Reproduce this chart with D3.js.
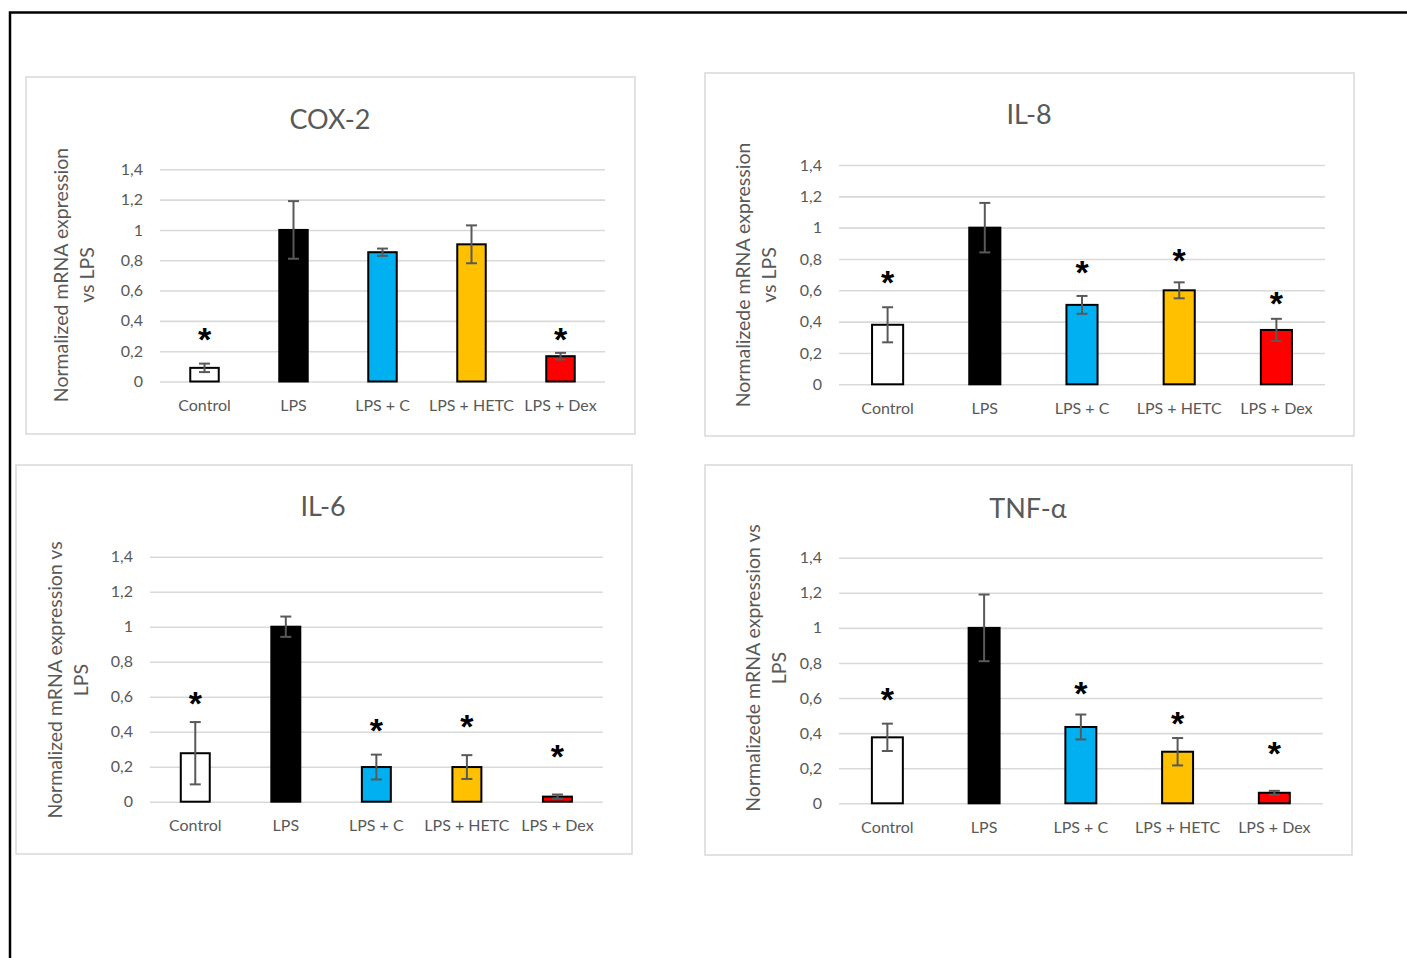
<!DOCTYPE html>
<html><head><meta charset="utf-8">
<script src="https://cdnjs.cloudflare.com/ajax/libs/d3/7.8.5/d3.min.js"></script>
<style>
html,body{margin:0;padding:0;background:#fff;}
svg{display:block;}
text{font-family:Lato,"Open Sans",sans-serif;fill:#595959;}
</style></head>
<body>
<svg id="c" width="1407" height="958"></svg>
<script>
const categories = ["Control", "LPS", "LPS + C", "LPS + HETC", "LPS + Dex"];
const barColors = ["#FFFFFF", "#000000", "#00B0F0", "#FFC000", "#FF0000"];
const yTicks = [0, 0.2, 0.4, 0.6, 0.8, 1.0, 1.2, 1.4];

const cox2Values = [0.09, 1.0, 0.853, 0.905, 0.167];
const cox2Errors = [0.028, 0.19, 0.024, 0.125, 0.022];
const cox2Stars  = [0.295, null, null, null, 0.295];

const il8Values = [0.38, 1.0, 0.507, 0.60, 0.347];
const il8Errors = [0.112, 0.158, 0.057, 0.051, 0.071];
const il8Stars  = [0.666, null, 0.73, 0.807, 0.534];

const il6Values = [0.277, 1.0, 0.198, 0.198, 0.029];
const il6Errors = [0.178, 0.058, 0.071, 0.068, 0.012];
const il6Stars  = [0.577, null, 0.425, 0.444, 0.272];

const tnfValues = [0.376, 1.0, 0.435, 0.294, 0.06];
const tnfErrors = [0.078, 0.19, 0.071, 0.078, 0.011];
const tnfStars  = [0.607, null, 0.642, 0.469, 0.298];

const panels = [
  {title: "COX-2", values: cox2Values, errors: cox2Errors, stars: cox2Stars,
   ylabel: ["Normalized mRNA expression", "vs LPS"],
   box: [26, 77, 609, 357], px0: 160, px1: 605, py0: 381.5, py1: 169.3,
   tx: 330, ty: 118, lx: 60, ly: 275},
  {title: "IL-8", values: il8Values, errors: il8Errors, stars: il8Stars,
   ylabel: ["Normalizede mRNA expression", "vs LPS"],
   box: [705, 73, 649, 363], px0: 839, px1: 1325, py0: 384.3, py1: 165,
   tx: 1029, ty: 113, lx: 742, ly: 275},
  {title: "IL-6", values: il6Values, errors: il6Errors, stars: il6Stars,
   ylabel: ["Normalized mRNA expression vs", "LPS"],
   box: [16, 465, 616, 389], px0: 150, px1: 602.7, py0: 801.7, py1: 556.7,
   tx: 323, ty: 505, lx: 54, ly: 680},
  {title: "TNF-\u03b1", values: tnfValues, errors: tnfErrors, stars: tnfStars,
   ylabel: ["Normalizede mRNA expression vs", "LPS"],
   box: [705, 465, 647, 390], px0: 839, px1: 1322.7, py0: 803.3, py1: 557.7,
   tx: 1028, ty: 507, lx: 752, ly: 668}
];

const svg = d3.select("#c");
const fmt = v => d3.format("~g")(+v.toFixed(1)).replace(".", ",");

// outer frame
svg.append("path").attr("d", "M10,958 L10,12.5 L1407,12.5")
  .attr("fill", "none").attr("stroke", "#000").attr("stroke-width", 2.5);

panels.forEach(p => {
  const g = svg.append("g");
  g.append("rect").attr("x", p.box[0]).attr("y", p.box[1])
    .attr("width", p.box[2]).attr("height", p.box[3])
    .attr("fill", "#fff").attr("stroke", "#D9D9D9").attr("stroke-width", 1.5);

  const x = d3.scaleBand().domain(categories).range([p.px0, p.px1]).paddingInner(0.68).paddingOuter(0.34);
  const y = d3.scaleLinear().domain([0, 1.4]).range([p.py0, p.py1]);

  const ya = g.append("g").attr("transform", `translate(${p.px0},0)`)
    .call(d3.axisLeft(y).tickValues(yTicks).tickFormat(fmt).tickSize(-(p.px1 - p.px0)).tickPadding(17));
  ya.select(".domain").remove();
  ya.selectAll("line").attr("stroke", "#D9D9D9").attr("stroke-width", 1.6);
  ya.selectAll("text").style("font-size", "16px").attr("fill", "#595959");

  const xa = g.append("g").attr("transform", `translate(0,${p.py0})`)
    .call(d3.axisBottom(x).tickSize(0).tickPadding(18));
  xa.select(".domain").remove();
  xa.selectAll("text").style("font-size", "16px").attr("fill", "#595959");

  const data = categories.map((c, i) => ({c, v: p.values[i], e: p.errors[i], s: p.stars[i], col: barColors[i]}));

  g.selectAll("rect.bar").data(data).join("rect").attr("class", "bar")
    .attr("x", d => x(d.c)).attr("width", x.bandwidth())
    .attr("y", d => y(d.v)).attr("height", d => y(0) - y(d.v))
    .attr("fill", d => d.col).attr("stroke", "#000").attr("stroke-width", 2);

  const eb = g.selectAll("g.err").data(data).join("g").attr("class", "err")
    .attr("stroke", "#595959").attr("stroke-width", 2);
  const cx = d => x(d.c) + x.bandwidth() / 2;
  eb.append("line").attr("x1", cx).attr("x2", cx).attr("y1", d => y(d.v + d.e)).attr("y2", d => y(d.v - d.e));
  eb.append("line").attr("x1", d => cx(d) - 5.5).attr("x2", d => cx(d) + 5.5).attr("y1", d => y(d.v + d.e)).attr("y2", d => y(d.v + d.e));
  eb.append("line").attr("x1", d => cx(d) - 5.5).attr("x2", d => cx(d) + 5.5).attr("y1", d => y(d.v - d.e)).attr("y2", d => y(d.v - d.e));

  const starFs = 34;
  g.selectAll("text.star").data(data.filter(d => d.s != null)).join("text").attr("class", "star")
    .attr("x", cx).attr("y", d => y(d.s) + starFs * 0.42)
    .attr("text-anchor", "middle")
    .style("font-family", "'Liberation Sans',Arial,sans-serif").style("font-weight", "bold")
    .style("font-size", starFs + "px").style("fill", "#000").text("*");

  g.append("text").attr("x", p.tx).attr("y", p.ty).attr("text-anchor", "middle")
    .attr("dominant-baseline", "central").style("font-size", "27px").text(p.title);

  const lab = g.append("text").attr("transform", `translate(${p.lx},${p.ly}) rotate(-90)`)
    .attr("text-anchor", "middle").style("font-size", "19.5px");
  p.ylabel.forEach((t, i) => lab.append("tspan").attr("x", 0).attr("y", i * 26).attr("dominant-baseline", "central").text(t));
});
</script>
</body></html>
